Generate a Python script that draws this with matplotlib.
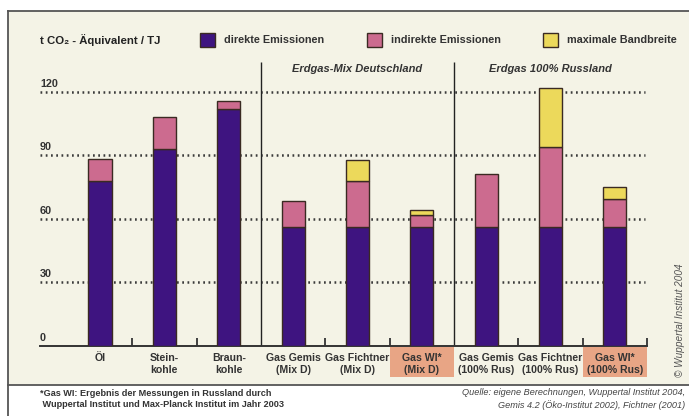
import matplotlib
matplotlib.use("Agg")
import matplotlib.pyplot as plt
import matplotlib.transforms as mtransforms
from matplotlib.patches import Rectangle
from matplotlib.lines import Line2D

plt.rcParams['font.family'] = ['Liberation Sans', 'DejaVu Sans']

# ------ data ------
categories = ["Öl", "Stein-\nkohle", "Braun-\nkohle",
              "Gas Gemis\n(Mix D)", "Gas Fichtner\n(Mix D)", "Gas WI*\n(Mix D)",
              "Gas Gemis\n(100% Rus)", "Gas Fichtner\n(100% Rus)", "Gas WI*\n(100% Rus)"]
direkt = [78, 93, 112, 56, 56, 56, 56, 56, 56]
indirekt = [10.5, 15, 3.5, 12.6, 22, 6, 25.4, 38, 13.4]
bandbreite = [0, 0, 0, 0, 10, 2.4, 0, 28, 5.6]
y_ticks = [0, 30, 60, 90, 120]
highlight = [5, 8]   # WI measurements

c_direkt = "#3e1480"
c_indirekt = "#cc6b8f"
c_band = "#ecd95b"
c_bg = "#f4f3e6"
c_salmon = "#e8a585"
c_edge = "#3a2a22"
c_text = "#333333"

W, H = 689, 416
fig = plt.figure(figsize=(W / 100, H / 100), dpi=100)

def px(x, y):
    return x / W, 1 - y / H

# background panel + frame
fig.patches.append(Rectangle(px(8, 385), (W - 8) / W, (385 - 11) / H,
                             transform=fig.transFigure, facecolor=c_bg, edgecolor="none", zorder=-5))
for xs, ys in [([8, W], [11, 11]), ([8, 8], [11, H]), ([8, W], [385, 385])]:
    fig.lines.append(Line2D([x / W for x in xs], [1 - y / H for y in ys],
                            transform=fig.transFigure, color="#555555", lw=1.3, zorder=-4))

# main axes: y=0 at 346px, 1 unit = 2.117px
ymax = 134
ax = fig.add_axes([40 / W, (H - 346) / H, 607 / W, ymax * 2.117 / H])
ax.set_facecolor("none")
ax.set_xlim(-0.933, 8.5)
ax.set_ylim(0, ymax)

x = list(range(len(categories)))
bw = 0.36
kw = dict(width=bw, edgecolor=c_edge, linewidth=1.0, zorder=3)
ax.bar(x, direkt, color=c_direkt, **kw)
ax.bar(x, indirekt, bottom=direkt, color=c_indirekt, **kw)
tops = [d + i for d, i in zip(direkt, indirekt)]
for i in x:
    if bandbreite[i] > 0:
        ax.bar(i, bandbreite[i], bottom=tops[i], color=c_band, **kw)

# dotted grid lines + labels
for v in y_ticks[1:]:
    ax.plot([-0.933, 8.47], [v, v], color="#3a3a3a", lw=1.8,
            linestyle=(0, (0.7, 1.4)), zorder=1)
for v in y_ticks:
    ax.text(-0.933, v + 1.6, str(v), fontsize=7.8, fontweight="bold",
            color=c_text, va="bottom", ha="left")

# separators between groups
ax.vlines([2.5, 5.5], 0, ymax, color="#222222", lw=1.0, zorder=2)

# axes / ticks
for s in ["top", "right", "left"]:
    ax.spines[s].set_visible(False)
ax.spines["bottom"].set_color("#333333")
ax.spines["bottom"].set_linewidth(1.4)
ax.set_yticks([])
ax.set_xticks(x)
ax.set_xticklabels(categories, fontsize=7.6, fontweight="bold", color=c_text,
                   linespacing=1.2)
ax.tick_params(axis="x", which="major", length=0, pad=5)
ax.set_xticks([0.5, 1.5, 3.5, 4.5, 6.5, 7.5, 8.5], minor=True)
ax.tick_params(axis="x", which="minor", direction="in", length=6, width=1.3, color="#333333")

# highlighted WI label cells
trans = mtransforms.blended_transform_factory(ax.transData, fig.transFigure)
for i in highlight:
    ax.add_patch(Rectangle((i - 0.5, 1 - 377 / H), 1.0, 30 / H, transform=trans,
                           facecolor=c_salmon, edgecolor="none", clip_on=False, zorder=0))

# group titles
ax.text(4, 131, "Erdgas-Mix Deutschland", ha="center", va="center", fontsize=8,
        fontweight="bold", style="italic", color=c_text)
ax.text(7, 131, "Erdgas 100% Russland", ha="center", va="center", fontsize=8,
        fontweight="bold", style="italic", color=c_text)

# title + legend
fig.text(*px(40, 40), "t CO₂ - Äquivalent / TJ", fontsize=8.2, fontweight="bold",
         color="#222222", va="center", ha="left")
legend = [(200, c_direkt, "direkte Emissionen"),
          (367, c_indirekt, "indirekte Emissionen"),
          (543, c_band, "maximale Bandbreite")]
for lx, col, lab in legend:
    fig.patches.append(Rectangle(px(lx, 47), 15 / W, 14 / H, transform=fig.transFigure,
                                 facecolor=col, edgecolor=c_edge, lw=1.0))
    fig.text(*px(lx + 24, 40), lab, fontsize=7.8, fontweight="bold",
             color=c_text, va="center", ha="left")

# copyright
fig.text(*px(680, 320), "© Wuppertal Institut 2004", rotation=90, fontsize=7.2,
         style="italic", color="#555555", ha="center", va="center")

# footnotes
fig.text(*px(40, 399), "*Gas WI: Ergebnis der Messungen in Russland durch\n"
         " Wuppertal Institut und Max-Planck Institut im Jahr 2003",
         fontsize=6.6, fontweight="bold", color="#333333", ha="left", va="center",
         linespacing=1.4)
fig.text(*px(685, 399), "Quelle: eigene Berechnungen, Wuppertal Institut 2004,\n"
         "Gemis 4.2 (Öko-Institut 2002), Fichtner (2001)",
         fontsize=6.6, style="italic", color="#444444", ha="right", va="center",
         linespacing=1.4, multialignment="right")

fig.savefig("out.png", dpi=100)
